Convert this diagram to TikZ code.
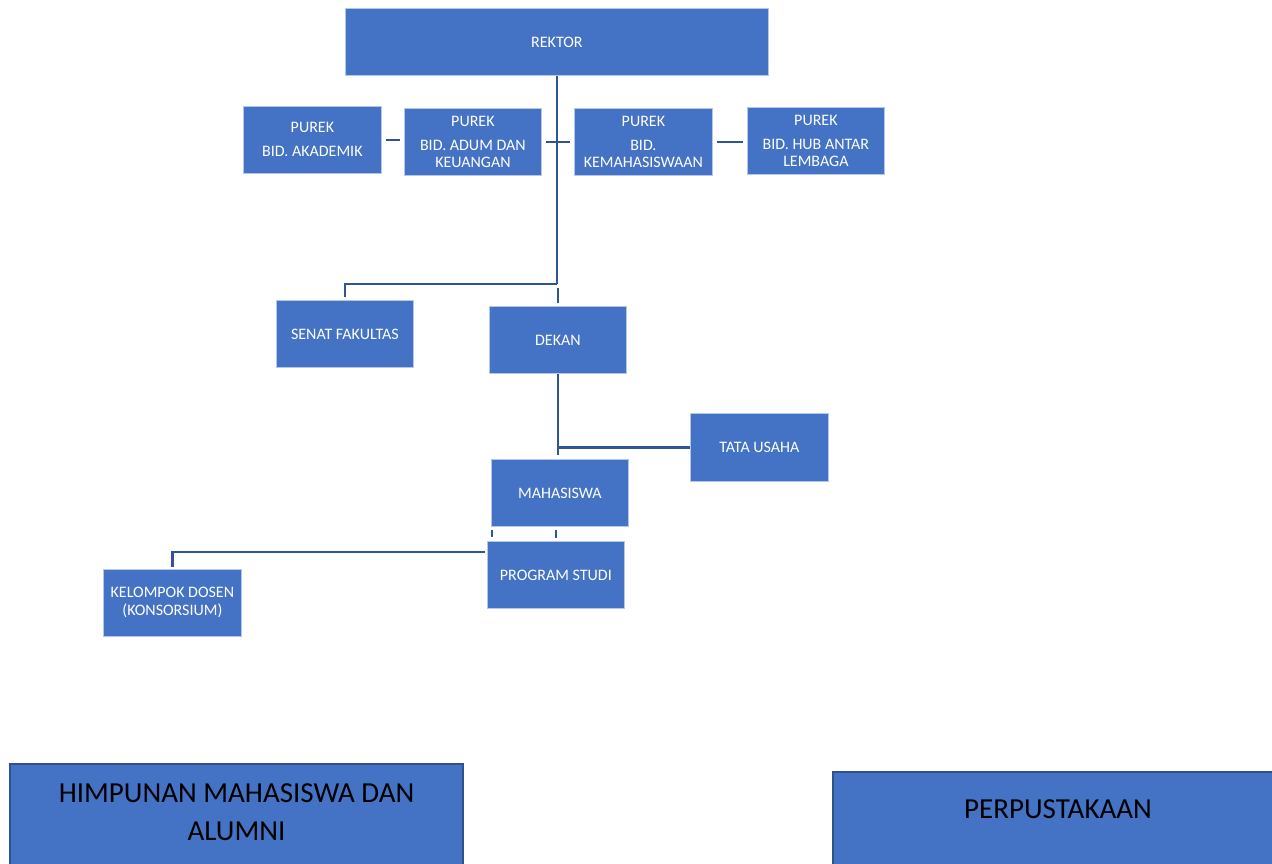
\documentclass[tikz,border=0pt]{standalone}
\usepackage{fontspec}
\setmainfont{Carlito}
\usetikzlibrary{calc}
\definecolor{boxfill}{HTML}{4472C4}
\definecolor{boxedge}{HTML}{B4C7E7}
\definecolor{bigedge}{HTML}{2F528F}
\definecolor{linecol}{HTML}{2F5597}
\tikzset{
  orgbox/.style={rectangle, fill=boxfill, draw=boxedge, line width=0.8pt, inner sep=0pt,
    anchor=north west, minimum width=137pt, minimum height=67pt, text=white,
    align=center, font=\fontsize{16}{17.5}\selectfont},
  bigbox/.style={rectangle, fill=boxfill, draw=bigedge, line width=2pt, inner sep=0pt, anchor=north west},
  bigtext/.style={text=black, align=center, font=\fontsize{29}{38}\selectfont, inner sep=0pt},
  conn/.style={draw=linecol, line width=2.6pt}
}
\begin{document}
\begin{tikzpicture}[x=1pt,y=-1pt]
\useasboundingbox (0,0) rectangle (1272,863);
\clip (0,0) rectangle (1272,863);
\fill[white] (0,0) rectangle (1272,863);
% boxes
\node[orgbox, minimum width=423pt] (rektor) at (345,8) {REKTOR};
\node[orgbox, minimum width=138pt] (ak) at (243,106) {PUREK\\[6.5pt]BID. AKADEMIK};
\node[orgbox] (adum) at (404,108) {PUREK\\[6.5pt]BID. ADUM DAN\\KEUANGAN};
\node[orgbox, minimum width=138pt] (kema) at (574,108) {PUREK\\[6.5pt]BID.\\KEMAHASISWAAN};
\node[orgbox] (hub) at (747,107) {PUREK\\[6.5pt]BID. HUB ANTAR\\LEMBAGA};
\node[orgbox] (senat) at (276,300) {SENAT FAKULTAS};
\node[orgbox] (dekan) at (489,306) {DEKAN};
\node[orgbox, minimum width=138pt, minimum height=68pt] (tata) at (690,413) {TATA USAHA};
\node[orgbox] (maha) at (491,459) {MAHASISWA};
\node[orgbox] (prog) at (487,541) {PROGRAM STUDI};
\node[orgbox, minimum width=138pt, font=\fontsize{16}{18}\selectfont] (kel) at (103,569) {KELOMPOK DOSEN\\(KONSORSIUM)};
% big boxes
\node[bigbox, minimum width=453pt, minimum height=130pt] (himp) at (9,763) {};
\node[bigtext, anchor=north] (himptext) at ($(himp.north)+(0,20)$) {HIMPUNAN MAHASISWA DAN\\ALUMNI};
\node[bigbox, minimum width=480pt, minimum height=130pt] (perp) at (832,771) {};
\node[bigtext, anchor=base] (perptext) at (1058,818) {PERPUSTAKAAN};
% connectors
\coordinate (j1) at ($(rektor.south)+(0,208)$);
\draw[conn] (rektor.south) -- (j1);
\draw[conn] (j1) -| ($(senat.north)+(0,-3)$);
\draw[conn] ($(j1 -| dekan.north)+(0,4)$) -- ($(dekan.north)+(0,-3)$);
\draw[conn, shorten <=4pt, shorten >=4pt] (ak.east) -- (ak.east -| adum.west);
\draw[conn, shorten <=4pt, shorten >=4pt] (adum.east) -- (adum.east -| kema.west);
\draw[conn, shorten <=4pt, shorten >=4pt] (kema.east) -- (kema.east -| hub.west);
\draw[conn] (dekan.south) -- ($(maha.north -| dekan.south)+(0,-4)$);
\draw[conn] (tata.west) -- (tata.west -| dekan.south);
\draw[conn] ($(maha.south west)+(1,3)$) -- ($(prog.north west)+(5,-4)$);
\draw[conn] ($(prog.north)+(0,-3)$) -- ($(prog.north |- maha.south)+(0,3)$);
\draw[conn] ($(prog.north west)+(-2,11)$) -| ($(kel.north)+(0,-2)$);
\end{tikzpicture}
\end{document}
